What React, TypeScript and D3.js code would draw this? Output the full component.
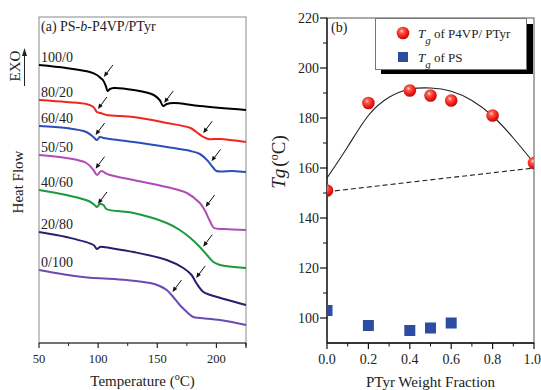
import React from "react";
import * as d3 from "d3";

// ---- panel (a): DSC traces, [temperature °C, heat flow (a.u.)]
const dscLabels = ["100/0", "80/20", "60/40", "50/50", "40/60", "20/80", "0/100"];
const dscColors = ["#000000", "#f0251e", "#2a4fb8", "#b24bb8", "#1a9a3c", "#23206e", "#6a4bb0"];

const dsc100_0: [number, number][] = [[50, 27.8], [73, 27.5], [93, 27.1], [99, 26.8], [102, 26.5], [104, 26.3], [106.5, 25.7], [108, 25.2], [110, 25.4], [113, 25.5], [130, 25.3], [147, 24.8], [152, 24.3], [155, 23.7], [158, 23.9], [164, 24.0], [186, 23.7], [225, 23.3]];
const dsc80_20: [number, number][] = [[50, 24.3], [73, 24.1], [90, 23.9], [96, 23.6], [99, 23.1], [102, 23.0], [107, 22.8], [130, 22.6], [158, 22.0], [178, 21.5], [183, 21.1], [189, 20.6], [193, 20.4], [203, 20.4], [225, 20.1]];
const dsc60_40: [number, number][] = [[50, 21.7], [73, 21.5], [90, 21.1], [96, 20.6], [99, 20.3], [101.5, 20.6], [104.5, 20.5], [110, 20.4], [130, 20.1], [158, 19.6], [178, 19.2], [186, 18.9], [192, 18.3], [197.5, 17.5], [200, 17.2], [214, 17.2], [225, 17.1]];
const dsc50_50: [number, number][] = [[50, 18.8], [73, 18.5], [90, 18.0], [96, 17.3], [99, 16.8], [101.5, 17.1], [103, 17.2], [106, 17.0], [110, 16.8], [130, 16.3], [158, 15.6], [175, 15.0], [186, 14.0], [190, 13.3], [194.5, 12.2], [198, 11.5], [207, 11.4], [225, 11.3]];
const dsc40_60: [number, number][] = [[50, 15.3], [73, 14.8], [92, 14.2], [97, 13.8], [99, 13.6], [101.5, 13.9], [104.5, 13.8], [107, 13.4], [130, 13.0], [158, 12.0], [169, 11.3], [178, 10.5], [186, 9.6], [192, 8.8], [197.5, 8.1], [203, 7.8], [225, 7.5]];
const dsc20_80: [number, number][] = [[50, 11.1], [73, 10.6], [96, 9.8], [99, 9.4], [101.5, 9.6], [104.5, 9.6], [110, 9.5], [130, 9.1], [158, 8.3], [172, 7.5], [179, 6.8], [183, 6.0], [189, 5.1], [195, 4.8], [225, 3.8]];
const dsc0_100: [number, number][] = [[50, 7.3], [87, 6.6], [124, 6.3], [144, 6.0], [152, 5.7], [158, 5.3], [163.5, 4.6], [169, 3.8], [175, 3.1], [180.5, 2.6], [186, 2.5], [203, 2.3], [225, 1.8]];
const dscCurves = [dsc100_0, dsc80_20, dsc60_40, dsc50_50, dsc40_60, dsc20_80, dsc0_100];
// temperatures the arrows point at
const dscArrows = [[104, 155], [99, 188], [97, 195], [97, 190], [99, 188], [182], [162]];
const tempTicks = [50, 100, 150, 200];

// ---- panel (b): Tg vs PTyr weight fraction
const blendFraction = [0, 0.2, 0.4, 0.5, 0.6, 0.8, 1.0];
const blendTg = [151, 186, 191, 189, 187, 181, 162];
const psFraction = [0, 0.2, 0.4, 0.5, 0.6];
const psTg = [103, 97, 95, 96, 98];
const fitFraction = [0, 0.1, 0.2, 0.3, 0.4, 0.5, 0.6, 0.7, 0.8, 0.9, 1.0];
const fitTg = [156, 168.5, 181, 188.3, 191.5, 192, 190.7, 187, 180.8, 172, 162];
const idealFraction = [0, 1];
const idealTg = [150.5, 160];
const fracTicks = [0, 0.2, 0.4, 0.6, 0.8, 1.0];
const tgTicks = [100, 120, 140, 160, 180, 200, 220];

const serif = "'Liberation Serif', 'DejaVu Serif', serif";

function interp(curve: [number, number][], t: number) {
  for (let i = 1; i < curve.length; i++) {
    if (curve[i][0] >= t) {
      const [t0, v0] = curve[i - 1];
      const [t1, v1] = curve[i];
      return v0 + ((t - t0) / (t1 - t0)) * (v1 - v0);
    }
  }
  return curve[curve.length - 1][1];
}

const PanelA = () => {
  const left = 39, right = 246, top = 17, bottom = 343;
  const x = d3.scaleLinear().domain([50, 225]).range([left, right]);
  const y = d3.scaleLinear().domain([0, 32.6]).range([bottom, top]);
  const line = d3
    .line<[number, number]>()
    .x((d) => x(d[0]))
    .y((d) => y(d[1]))
    .curve(d3.curveCatmullRom.alpha(0.5));
  const minor = d3.range(75, 226, 50);

  return (
    <g fontFamily={serif}>
      <rect x={left} y={top} width={right - left} height={bottom - top} fill="none" stroke="#8a8a8a" strokeWidth={1} />
      <line x1={left} x2={right} y1={bottom} y2={bottom} stroke="#222" strokeWidth={1.2} />
      {tempTicks.concat([225]).map((t) => (
        <line key={"M" + t} x1={x(t)} x2={x(t)} y1={bottom} y2={bottom + 5} stroke="#222" strokeWidth={1.2} />
      ))}
      {minor.map((t) => (
        <line key={"m" + t} x1={x(t)} x2={x(t)} y1={bottom} y2={bottom + 3} stroke="#222" strokeWidth={1} />
      ))}
      {tempTicks.map((t) => (
        <text key={"l" + t} x={x(t)} y={363} fontSize={12.5} textAnchor="middle" fill="#222">
          {t}
        </text>
      ))}
      <text x={(left + right) / 2} y={386} fontSize={15} textAnchor="middle" fill="#222">
        Temperature (<tspan fontSize={10} dy={-6}>o</tspan>
        <tspan dy={6}>C)</tspan>
      </text>
      <text transform="translate(23,182) rotate(-90)" fontSize={15} textAnchor="middle" fill="#222">
        Heat Flow
      </text>
      <text transform="translate(20,66) rotate(-90)" fontSize={15} textAnchor="middle" fill="#222">
        EXO
      </text>
      <line x1={24.5} x2={24.5} y1={86} y2={54} stroke="#222" strokeWidth={1} />
      <path d="M24.5,48 L22,56 L27,56 Z" fill="#222" />
      <text x={41} y={31} fontSize={14} fill="#222">
        (a) PS-<tspan fontStyle="italic">b</tspan>-P4VP/PTyr
      </text>
      {dscCurves.map((c, i) => (
        <g key={dscLabels[i]}>
          <path d={line(c) || ""} fill="none" stroke={dscColors[i]} strokeWidth={2} />
          <text x={41} y={y(c[0][1]) - 3.5} fontSize={14} fill="#222">
            {dscLabels[i]}
          </text>
          {dscArrows[i].map((t) => {
            const px = x(t) + 1;
            const py = y(interp(c, t)) - 3;
            return (
              <g key={t}>
                <line x1={px + 3} x2={px + 9} y1={py - 4} y2={py - 12} stroke="#111" strokeWidth={1} />
                <path d={`M${px},${py} L${px + 1.2},${py - 5.6} L${px + 4.8},${py - 3}Z`} fill="#111" />
              </g>
            );
          })}
        </g>
      ))}
    </g>
  );
};

const PanelB = () => {
  const left = 327, right = 534, top = 18, bottom = 343;
  const x = d3.scaleLinear().domain([0, 1]).range([left, right]);
  const y = d3.scaleLinear().domain([90, 220]).range([bottom, top]);
  const fitLine = d3
    .line<number>()
    .x((d) => x(d))
    .y((_, i) => y(fitTg[i]))
    .curve(d3.curveNatural);
  const idealLine = d3
    .line<number>()
    .x((d) => x(d))
    .y((_, i) => y(idealTg[i]));
  const minorX = d3.range(0.1, 1, 0.2);
  const minorY = d3.range(110, 220, 20);
  const sq = 11;

  return (
    <g fontFamily={serif}>
      <defs>
        <radialGradient id="ball" cx="0.4" cy="0.35" r="0.65">
          <stop offset="0" stopColor="#ffe0dc" />
          <stop offset="0.25" stopColor="#ff5a4e" />
          <stop offset="0.7" stopColor="#ee1a14" />
          <stop offset="1" stopColor="#c00a08" />
        </radialGradient>
        <clipPath id="plotB">
          <rect x={left} y={top} width={right - left} height={bottom - top} />
        </clipPath>
      </defs>
      <rect x={left} y={top} width={right - left} height={bottom - top} fill="none" stroke="#555" strokeWidth={1} />
      <line x1={left} x2={left} y1={top} y2={bottom} stroke="#111" strokeWidth={1.3} />
      <line x1={left} x2={right} y1={bottom} y2={bottom} stroke="#111" strokeWidth={1.3} />
      {tgTicks.map((t) => (
        <g key={"y" + t}>
          <line x1={left - 7} x2={left} y1={y(t)} y2={y(t)} stroke="#111" strokeWidth={1.2} />
          <text x={left - 8} y={y(t) + 5} fontSize={14} textAnchor="end" fill="#222">
            {t}
          </text>
        </g>
      ))}
      {minorY.map((t) => (
        <line key={"my" + t} x1={left - 4} x2={left} y1={y(t)} y2={y(t)} stroke="#111" strokeWidth={1} />
      ))}
      {fracTicks.map((t) => (
        <g key={"x" + t}>
          <line x1={x(t)} x2={x(t)} y1={bottom} y2={bottom + 6} stroke="#111" strokeWidth={1.2} />
          <text
            x={t === 1 ? 541 : x(t)}
            y={364}
            fontSize={14}
            textAnchor={t === 1 ? "end" : "middle"}
            fill="#222"
          >
            {t.toFixed(1)}
          </text>
        </g>
      ))}
      {minorX.map((t) => (
        <line key={"mx" + t} x1={x(t)} x2={x(t)} y1={bottom} y2={bottom + 3.5} stroke="#111" strokeWidth={1} />
      ))}
      <text x={(left + right) / 2} y={387} fontSize={15} textAnchor="middle" fill="#222">
        PTyr Weight Fraction
      </text>
      <text transform="translate(285,162) rotate(-90)" fontSize={19} textAnchor="middle" fill="#222">
        <tspan fontStyle="italic">Tg</tspan>
        <tspan dx={2}>(</tspan>
        <tspan fontSize={12} dy={-7}>o</tspan>
        <tspan dy={7}>C)</tspan>
      </text>
      <text x={331} y={32} fontSize={14} fill="#222">
        (b)
      </text>
      <g clipPath="url(#plotB)">
        <path d={idealLine(idealFraction) || ""} fill="none" stroke="#222" strokeWidth={1.1} strokeDasharray="5,3" />
        <path d={fitLine(fitFraction) || ""} fill="none" stroke="#222" strokeWidth={1.1} />
        {psFraction.map((f, i) => (
          <rect key={"s" + i} x={x(f) - sq / 2} y={y(psTg[i]) - sq / 2} width={sq} height={sq} fill="#2d4da3" />
        ))}
        {blendFraction.map((f, i) => (
          <circle key={"c" + i} cx={x(f)} cy={y(blendTg[i])} r={6.3} fill="url(#ball)" />
        ))}
      </g>
      {/* legend */}
      <rect x={381} y={24} width={152} height={50} fill="#000" />
      <rect x={375.5} y={18.5} width={151} height={51} fill="#fff" stroke="#777" strokeWidth={1} />
      <circle cx={403} cy={33} r={6.3} fill="url(#ball)" />
      <rect x={403 - 5} y={57 - 5} width={10} height={10} fill="#2d4da3" />
      <text x={418} y={38} fontSize={13} fill="#222">
        <tspan fontStyle="italic">T</tspan>
        <tspan fontStyle="italic" fontSize={11} dy={6}>g</tspan>
        <tspan dy={-6}> of P4VP/ PTyr</tspan>
      </text>
      <text x={418} y={62} fontSize={13} fill="#222">
        <tspan fontStyle="italic">T</tspan>
        <tspan fontStyle="italic" fontSize={11} dy={6}>g</tspan>
        <tspan dy={-6}> of PS</tspan>
      </text>
    </g>
  );
};

export default function App() {
  return (
    <svg
      width={541}
      height={390}
      style={{ position: "absolute", left: 0, top: 0, background: "#fff" }}
    >
      <PanelA />
      <PanelB />
    </svg>
  );
}
